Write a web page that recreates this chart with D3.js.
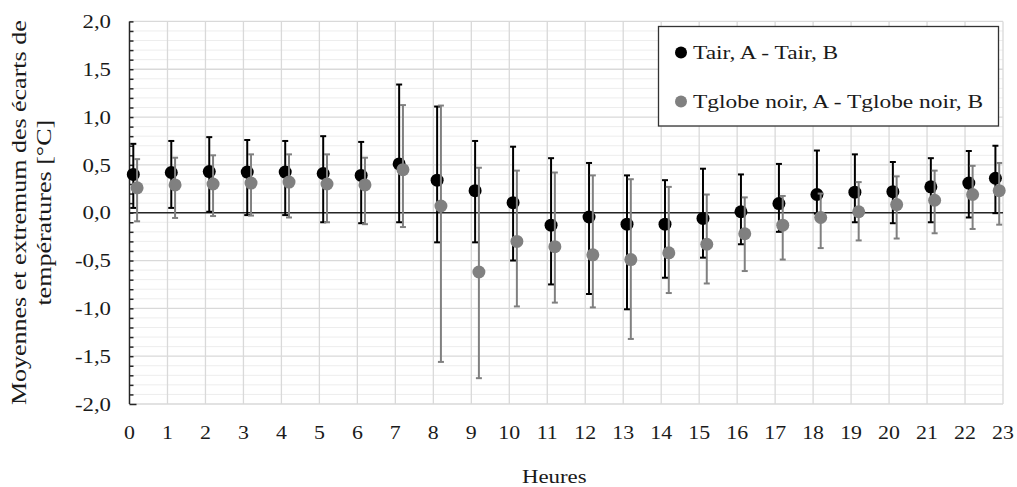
<!DOCTYPE html>
<html><head><meta charset="utf-8">
<script src="https://cdn.jsdelivr.net/npm/d3@7/dist/d3.min.js"></script>
<style>
html,body{margin:0;padding:0;background:#fff;}
text{font-family:'Liberation Serif','DejaVu Serif','Times New Roman',Times,serif;}
</style></head>
<body>
<svg id="chart" width="1017" height="487"></svg>
<script>
const hours = [0,1,2,3,4,5,6,7,8,9,10,11,12,13,14,15,16,17,18,19,20,21,22,23];
const tairMean = [0.40,0.42,0.43,0.425,0.425,0.41,0.39,0.51,0.34,0.23,0.105,-0.13,-0.045,-0.12,-0.12,-0.06,0.01,0.095,0.19,0.215,0.22,0.27,0.31,0.36];
const tairMax  = [0.72,0.75,0.79,0.76,0.75,0.80,0.74,1.34,1.11,0.75,0.69,0.57,0.52,0.39,0.34,0.46,0.40,0.51,0.65,0.61,0.53,0.57,0.645,0.70];
const tairMin  = [0.05,0.05,0.01,-0.025,-0.025,-0.10,-0.11,-0.10,-0.31,-0.31,-0.50,-0.75,-0.85,-1.01,-0.68,-0.47,-0.33,-0.20,-0.01,-0.10,-0.11,-0.10,-0.05,-0.005];
const tglobeMean = [0.26,0.29,0.30,0.31,0.32,0.30,0.29,0.45,0.07,-0.62,-0.30,-0.355,-0.44,-0.49,-0.42,-0.33,-0.22,-0.13,-0.05,0.01,0.085,0.13,0.19,0.23];
const tglobeMax  = [0.56,0.575,0.60,0.61,0.61,0.61,0.575,1.125,1.12,0.47,0.44,0.42,0.39,0.35,0.27,0.19,0.16,0.175,0.20,0.32,0.38,0.44,0.49,0.52];
const tglobeMin  = [-0.09,-0.055,-0.035,-0.03,-0.05,-0.10,-0.12,-0.15,-1.56,-1.73,-0.98,-0.94,-0.99,-1.32,-0.84,-0.74,-0.61,-0.49,-0.37,-0.29,-0.27,-0.215,-0.17,-0.125];
const yTicks = [-2,-1.5,-1,-0.5,0,0.5,1,1.5,2];
const seriesNames = ["Tair, A - Tair, B", "Tglobe noir, A - Tglobe noir, B"];
const seriesColors = ["#000000", "#808080"];

const svg = d3.select("#chart");
const x = d3.scaleLinear().domain([0, 23]).range([129.5, 1003]);
const y = d3.scaleLinear().domain([-2, 2]).range([404, 21.4]);
const fmt = v => d3.format(".1f")(v).replace(".", ",").replace("−", "-");
const textCol = "#1a1a1a";
const FONT = "'Liberation Serif', 'DejaVu Serif', 'Times New Roman', serif";
// widen the narrower Times-like glyphs to the reference's wider serif face
function stretch(sel, k) {
  sel.each(function() {
    const w = this.getComputedTextLength();
    d3.select(this).attr("textLength", w * k).attr("lengthAdjust", "spacingAndGlyphs");
  });
}

// minor horizontal grid
const minor = d3.range(-20, 21).map(i => i / 10).filter(v => Math.abs(Math.round(v * 2) - v * 2) > 1e-6);
svg.append("g").selectAll("line").data(minor).join("line")
  .attr("x1", x(0)).attr("x2", x(23)).attr("y1", d => y(d)).attr("y2", d => y(d))
  .attr("stroke", "#ededed").attr("stroke-width", 1);
// major horizontal grid
svg.append("g").selectAll("line").data(yTicks).join("line")
  .attr("x1", x(0)).attr("x2", x(23)).attr("y1", d => y(d)).attr("y2", d => y(d))
  .attr("stroke", "#d9d9d9").attr("stroke-width", 1.3);
// vertical grid
svg.append("g").selectAll("line").data(hours.slice(1)).join("line")
  .attr("x1", d => x(d)).attr("x2", d => x(d)).attr("y1", y(-2)).attr("y2", y(2))
  .attr("stroke", "#d9d9d9").attr("stroke-width", 1.3);

// y axis
const yAxis = d3.axisRight(y).tickValues(d3.range(-20, 21).map(i => i / 10)).tickSize(4).tickFormat("");
const ga = svg.append("g").attr("transform", `translate(${x(0)},0)`).call(yAxis);
ga.select(".domain").attr("stroke", "#262626").attr("stroke-width", 1.5).attr("d", `M0,${y(-2)}V${y(2)}`);
ga.selectAll(".tick line").attr("stroke", "#262626").attr("stroke-width", 1.5);
ga.selectAll(".tick").filter(d => Math.abs(d + 2) < 1e-6).select("line").attr("x2", 7);
// y tick labels
const ytl = svg.append("g").selectAll("text").data(yTicks).join("text")
  .attr("x", 111).attr("y", d => y(d)).attr("dy", "0.35em")
  .attr("text-anchor", "end").attr("font-size", 19).attr("fill", textCol)
  .style("font-family", FONT).text(fmt);
stretch(ytl, 1.2);

// zero line
svg.append("line").attr("x1", x(0)).attr("x2", x(23)).attr("y1", y(0)).attr("y2", y(0))
  .attr("stroke", "#262626").attr("stroke-width", 1.5);

// x tick labels
const xtl = svg.append("g").selectAll("text").data(hours).join("text")
  .attr("x", d => x(d)).attr("y", 439)
  .attr("text-anchor", "middle").attr("font-size", 19).attr("fill", textCol)
  .style("font-family", FONT).text(d => d);
stretch(xtl, 1.15);

// titles
const xt = svg.append("text").attr("x", x(11.5) - 12).attr("y", 483).attr("text-anchor", "middle")
  .attr("font-size", 19).attr("fill", textCol).style("font-family", FONT).text("Heures");
stretch(xt, 1.2);
const yt = svg.append("text").attr("transform", `translate(0,${y(0)}) rotate(-90)`)
  .attr("text-anchor", "middle").attr("font-size", 20).attr("fill", textCol).style("font-family", FONT);
yt.append("tspan").attr("x", 0).attr("y", 26).text("Moyennes et extremum des écarts de");
yt.append("tspan").attr("x", 0).attr("y", 51).text("températures [°C]");
stretch(yt.selectAll("tspan"), 1.3);

// series
const series = [
  {mean: tairMean, max: tairMax, min: tairMin, color: seriesColors[0], off: 0.1},
  {mean: tglobeMean, max: tglobeMax, min: tglobeMin, color: seriesColors[1], off: 0.2}
];
const xpos = (h, off) => h < 23 ? x(h + off) : x(h + off - 0.3);
series.forEach(s => {
  const g = svg.append("g");
  const data = hours.map((h, i) => ({h, m: s.mean[i], hi: s.max[i], lo: s.min[i]}));
  g.selectAll("line.bar").data(data).join("line").attr("class", "bar")
    .attr("x1", d => xpos(d.h, s.off)).attr("x2", d => xpos(d.h, s.off))
    .attr("y1", d => y(d.hi)).attr("y2", d => y(d.lo))
    .attr("stroke", s.color).attr("stroke-width", 2);
  ["hi", "lo"].forEach(k => {
    g.selectAll("line.cap" + k).data(data).join("line").attr("class", "cap" + k)
      .attr("x1", d => xpos(d.h, s.off) - 3).attr("x2", d => xpos(d.h, s.off) + 3)
      .attr("y1", d => y(d[k])).attr("y2", d => y(d[k]))
      .attr("stroke", s.color).attr("stroke-width", 2);
  });
  g.selectAll("circle").data(data).join("circle")
    .attr("cx", d => xpos(d.h, s.off)).attr("cy", d => y(d.m)).attr("r", 6.5)
    .attr("fill", s.color);
});

// legend
const lg = svg.append("g");
lg.append("rect").attr("x", 658.5).attr("y", 26.5).attr("width", 340).attr("height", 99.5)
  .attr("fill", "#fff").attr("stroke", "#333").attr("stroke-width", 1.3);
seriesNames.forEach((n, i) => {
  const cy = 52.5 + i * 49;
  lg.append("circle").attr("cx", 681).attr("cy", cy).attr("r", 6).attr("fill", seriesColors[i]);
  const t = lg.append("text").attr("x", 693).attr("y", cy).attr("dy", "0.35em")
    .attr("font-size", 19.5).attr("fill", textCol).style("font-family", FONT).text(n);
  stretch(t, 1.2);
});
</script>
</body></html>
